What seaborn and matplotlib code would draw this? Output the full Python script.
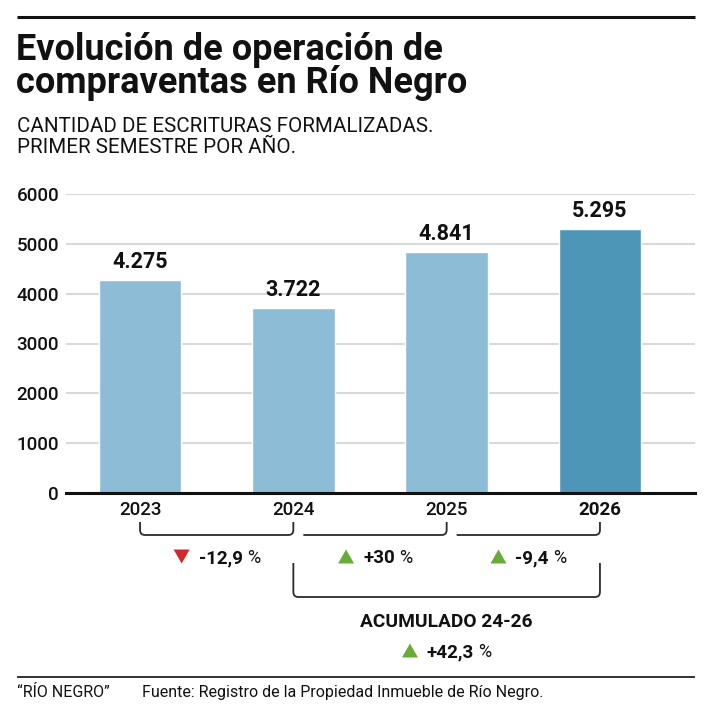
import matplotlib
matplotlib.use("Agg")
import matplotlib.pyplot as plt
import seaborn as sns
from matplotlib.path import Path
from matplotlib.patches import PathPatch, Polygon
from matplotlib import font_manager as fm

# ---------------- data ----------------
years = ["2023", "2024", "2025", "2026"]
values = [4275, 3722, 4841, 5295]
bar_colors = ["#8dbcd7", "#8dbcd7", "#8dbcd7", "#4e96b8"]
yticks = [0, 1000, 2000, 3000, 4000, 5000, 6000]
changes = ["-12,9", "+30", "-9,4"]
change_dirs = ["down", "up", "up"]
acc_label = "ACUMULADO 24-26"
acc_change = "+42,3"
acc_dir = "up"
title_lines = ["Evolución de operación de", "compraventas en Río Negro"]
subtitle_lines = ["CANTIDAD DE ESCRITURAS FORMALIZADAS.", "PRIMER SEMESTRE POR AÑO."]
credit = "\u201cRÍO NEGRO\u201d"
source = "Fuente: Registro de la Propiedad Inmueble de Río Negro."

# ---------------- style ----------------
sns.set_theme(style="white")
names = {f.name for f in fm.fontManager.ttflist}
FONT = "Roboto" if "Roboto" in names else "DejaVu Sans"
plt.rcParams["font.family"] = [FONT, "DejaVu Sans"]
INK = "#111111"
RED = "#d7262b"
GREEN = "#6aaa3a"

W, H = 713, 719
fig = plt.figure(figsize=(W / 100, H / 100), dpi=100)
fig.patch.set_facecolor("white")

# ---------------- main bar chart ----------------
ax_left, ax_right, ax_top, ax_bottom = 66, 695, 194, 493
ax = fig.add_axes([ax_left / W, 1 - ax_bottom / H, (ax_right - ax_left) / W, (ax_bottom - ax_top) / H])
sns.barplot(x=years, y=values, hue=years, palette=bar_colors, width=0.54,
            saturation=1, legend=False, ax=ax, zorder=2)
ax.set_xlim(-0.483, 3.62)
ax.set_ylim(0, 6000)
ax.set_yticks(yticks)
ax.set_yticklabels([str(t) for t in yticks])
ax.yaxis.grid(True, color="#d9d9d9", lw=1.5)
ax.xaxis.grid(False)
ax.set_axisbelow(True)
for s in ["left", "right", "top"]:
    ax.spines[s].set_visible(False)
ax.spines["bottom"].set_color(INK)
ax.spines["bottom"].set_linewidth(2.2)
ax.spines["bottom"].set_zorder(5)
ax.tick_params(axis="y", length=0, pad=5, labelsize=13.5, labelcolor=INK)
ax.tick_params(axis="x", length=0, pad=6, labelsize=13.5, labelcolor=INK)
for lab in ax.get_yticklabels():
    lab.set_fontweight("medium")
for lab in ax.get_xticklabels():
    lab.set_fontweight("bold" if lab.get_text() == years[-1] else "medium")
ax.set_xlabel("")
ax.set_ylabel("")

for cont in ax.containers:
    for bar in cont:
        h = bar.get_height()
        if h != h or h == 0:
            continue
        ax.annotate(f"{int(h):,}".replace(",", "."),
                    (bar.get_x() + bar.get_width() / 2, h),
                    xytext=(0, 5), textcoords="offset points",
                    ha="center", va="bottom", fontsize=15.5, fontweight="bold",
                    color=INK)

# ---------------- overlay in pixel coordinates ----------------
ov = fig.add_axes([0, 0, 1, 1], zorder=10)
ov.set_xlim(0, W)
ov.set_ylim(H, 0)
ov.axis("off")

ov.plot([17, 695], [17, 17], color=INK, lw=2.2, solid_capstyle="butt")
ov.plot([17, 695], [677, 677], color=INK, lw=1.2, solid_capstyle="butt")

ov.text(16, 60, title_lines[0], fontsize=26, fontweight="bold", color=INK, va="baseline")
ov.text(16, 93, title_lines[1], fontsize=26, fontweight="bold", color=INK, va="baseline")
ov.text(17, 132, subtitle_lines[0], fontsize=14.8, color=INK, va="baseline")
ov.text(17, 153, subtitle_lines[1], fontsize=14.8, color=INK, va="baseline")

ov.text(17, 697, credit, fontsize=11.5, color=INK, va="baseline")
ov.text(142, 697, source, fontsize=11.5, color=INK, va="baseline")

# bar centres in pixel coordinates
centers = [ax.transData.transform((i, 0))[0] for i in range(len(years))]


def bracket(x0, x1, ytop, ybot, left=True, right=True, r=5):
    verts, codes = [], []
    if left:
        verts += [(x0, ytop), (x0, ybot - r), (x0, ybot), (x0 + r, ybot)]
        codes += [Path.MOVETO, Path.LINETO, Path.CURVE3, Path.CURVE3]
    else:
        verts += [(x0, ybot)]
        codes += [Path.MOVETO]
    if right:
        verts += [(x1 - r, ybot), (x1, ybot), (x1, ybot - r), (x1, ytop)]
        codes += [Path.LINETO, Path.CURVE3, Path.CURVE3, Path.LINETO]
    else:
        verts += [(x1, ybot)]
        codes += [Path.LINETO]
    ov.add_patch(PathPatch(Path(verts, codes), fill=False, edgecolor="#2a2a2a",
                           lw=1.3, capstyle="butt"))


renderer = fig.canvas.get_renderer()


def twidth(s, **kw):
    t = ov.text(0, 0, s, **kw)
    w = t.get_window_extent(renderer).width
    t.remove()
    return w


def change_group(mid, baseline, num, direction, size=13.5):
    tri_w, tri_h, gap, pgap = 16, 14, 9, 4
    wn = twidth(num, fontsize=size, fontweight="bold")
    wp = twidth("%", fontsize=size - 0.5)
    total = tri_w + gap + wn + pgap + wp
    left = mid - total / 2
    cx = left + tri_w / 2
    cy = baseline - 6.5
    if direction == "down":
        pts = [(cx - tri_w / 2, cy - tri_h / 2), (cx + tri_w / 2, cy - tri_h / 2), (cx, cy + tri_h / 2)]
        col = RED
    else:
        pts = [(cx - tri_w / 2, cy + tri_h / 2), (cx + tri_w / 2, cy + tri_h / 2), (cx, cy - tri_h / 2)]
        col = GREEN
    ov.add_patch(Polygon(pts, closed=True, facecolor=col, edgecolor="none"))
    x = left + tri_w + gap
    ov.text(x, baseline, num, fontsize=size, fontweight="bold", color=INK, va="baseline")
    ov.text(x + wn + pgap, baseline, "%", fontsize=size - 0.5, color=INK, va="baseline")


# year-over-year brackets
b_top, b_bot = 522, 535
prev_end = None
for i in range(len(changes)):
    x0 = centers[i] if i == 0 else prev_end + 10
    x1 = centers[i + 1]
    bracket(x0, x1, b_top, b_bot, left=(i == 0), right=True)
    change_group((x0 + x1) / 2, 563, changes[i], change_dirs[i])
    prev_end = x1

# accumulated bracket 2024-2026
bracket(centers[1], centers[3], 563, 597, True, True)
acc_mid = (centers[1] + centers[3]) / 2
ov.text(acc_mid, 627, acc_label, fontsize=13.8, fontweight="bold", color=INK,
        ha="center", va="baseline")
change_group(acc_mid, 657, acc_change, acc_dir)

fig.savefig("out.png", dpi=100, facecolor="white")
